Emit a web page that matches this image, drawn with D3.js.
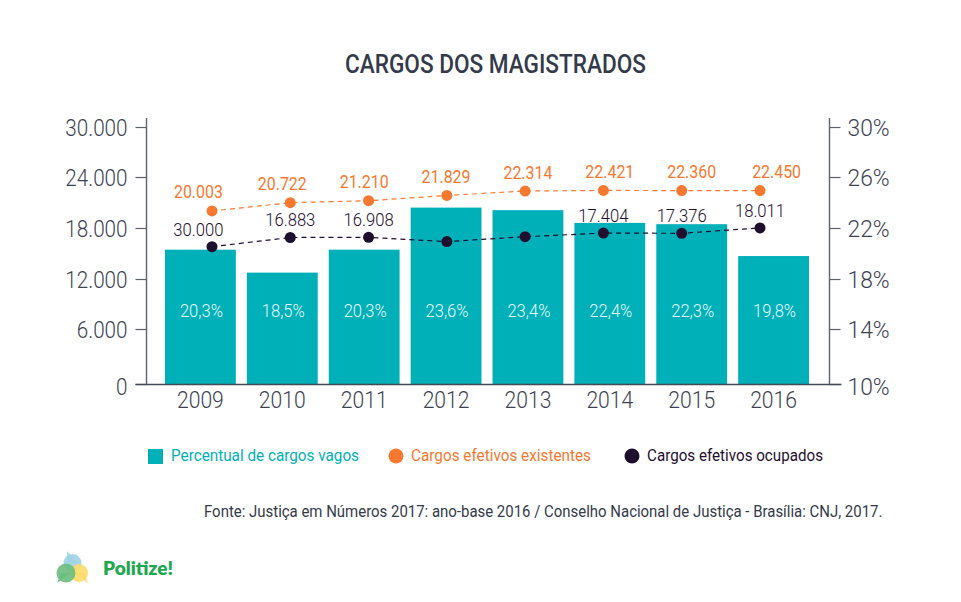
<!DOCTYPE html>
<html><head><meta charset="utf-8">
<script src="https://cdn.jsdelivr.net/npm/d3@7/dist/d3.min.js"></script>
<style>html,body{margin:0;padding:0;background:#fff}svg{display:block}text{font-family:Roboto,sans-serif}</style>
</head><body><svg id="c" width="961" height="602"></svg>
<script>
const years=["2009","2010","2011","2012","2013","2014","2015","2016"];
const percentVagos=[20.3,18.5,20.3,23.6,23.4,22.4,22.3,19.8];
const existentes=[20003,20980,21210,21829,22350,22421,22400,22400];
const ocupados=[15800,16883,16908,16400,16975,17404,17376,18011];
const existentesLabels=["20.003","20.722","21.210","21.829","22.314","22.421","22.360","22.450"];
const ocupadosLabels=["30.000","16.883","16.908",null,null,"17.404","17.376","18.011"];
const leftTicks=[0,6000,12000,18000,24000,30000];
const leftTickLabels=["0","6.000","12.000","18.000","24.000","30.000"];
const rightTicks=[10,14,18,22,26,30];
const titleText="CARGOS DOS MAGISTRADOS";
const sourceText="Fonte: Justiça em Números 2017: ano-base 2016 / Conselho Nacional de Justiça - Brasília: CNJ, 2017.";

const teal="#00b0b9",orange="#f7782f",dark="#1f0e2e",axisC="#5d6270",textC="#3d4252";
const svg=d3.select("#c");
const yRange=[384,329,279,228,177,127];
const yL=d3.scaleLinear().domain(leftTicks).range(yRange);
const yR=d3.scaleLinear().domain(rightTicks).range(yRange);
const xB=d3.scaleBand().domain(years).range([165,809]).paddingInner(0.135).paddingOuter(0);
const xP=d3.scalePoint().domain(years).range([212,760]);
const cx=d=>xB(d)+xB.bandwidth()/2;
const squeeze=(sel,k)=>sel.each(function(){const t=this.getComputedTextLength();d3.select(this).attr("textLength",t*k).attr("lengthAdjust","spacingAndGlyphs");});
const fitAt=(sel,x,y,w)=>{const k=w/sel.node().getComputedTextLength();sel.attr("transform",`translate(${x},${y}) scale(${k},1)`);};

// bars
svg.append("g").selectAll("rect").data(years).join("rect")
 .attr("x",d=>xB(d)).attr("width",xB.bandwidth())
 .attr("y",(d,i)=>yR(percentVagos[i])).attr("height",(d,i)=>384-yR(percentVagos[i])).attr("fill",teal);
svg.append("g").selectAll("text").data(years).join("text")
 .attr("x",d=>cx(d)+1).attr("y",317).attr("text-anchor","middle").attr("fill","#e6f7f7")
 .attr("font-size",18).attr("font-weight",300)
 .text((d,i)=>percentVagos[i].toFixed(1).replace(".",",")+"%").call(squeeze,0.92);

// axes
const axL=d3.axisLeft(yL).tickValues(leftTicks).tickFormat((d,i)=>leftTickLabels[i]).tickSize(11).tickPadding(8);
const axR=d3.axisRight(yR).tickValues(rightTicks).tickFormat(d=>d+"%").tickSize(11).tickPadding(7);
const gL=svg.append("g").attr("transform","translate(146.5,0)").call(axL);
const gR=svg.append("g").attr("transform","translate(829.5,0)").call(axR);
[[gL,0.86],[gR,0.95]].forEach(([g,k])=>{
 g.select(".domain").remove();
 g.append("line").attr("y1",118).attr("y2",384).attr("stroke",axisC).attr("stroke-width",1.4);
 g.selectAll(".tick line").attr("stroke",axisC).attr("stroke-width",1.2);
 g.selectAll(".tick text").attr("font-family","Roboto").attr("font-size",24).attr("font-weight",300).attr("fill",textC)
  .attr("dy",(d,i)=>i===0?"0.44em":"0.35em").call(squeeze,k);
});
const axB=d3.axisBottom(d3.scaleLinear().domain([0,1]).range([135,841])).tickValues([]).tickSize(0);
svg.append("g").attr("transform","translate(0,384)").call(axB).select(".domain").attr("stroke","#444a58").attr("stroke-width",1.4);
svg.append("g").selectAll("text").data(years).join("text")
 .attr("x",d=>cx(d)).attr("y",408).attr("text-anchor","middle").attr("fill",textC)
 .attr("font-size",24).attr("font-weight",300).text(d=>d).call(squeeze,0.88);

// lines
const line=d3.line().x((d,i)=>xP(years[i])).y(d=>yL(d));
svg.append("path").datum(existentes).attr("d",line).attr("fill","none").attr("stroke",orange).attr("stroke-width",1.2).attr("stroke-dasharray","5 4");
svg.append("path").datum(ocupados).attr("d",line).attr("fill","none").attr("stroke",dark).attr("stroke-width",1.2).attr("stroke-dasharray","5 4");
svg.append("g").selectAll("circle").data(existentes).join("circle").attr("cx",(d,i)=>xP(years[i])).attr("cy",d=>yL(d)).attr("r",5.5).attr("fill",orange);
svg.append("g").selectAll("circle").data(ocupados).join("circle").attr("cx",(d,i)=>xP(years[i])).attr("cy",d=>yL(d)).attr("r",5.5).attr("fill",dark);
svg.append("g").selectAll("text").data(years).join("text")
 .attr("x",(d,i)=>cx(d)+(i===7?3:i===0?-2:0)).attr("y",(d,i)=>yL(existentes[i])-12.5).attr("text-anchor","middle").attr("fill",orange)
 .attr("font-size",18.5).attr("font-weight",400).text((d,i)=>existentesLabels[i]).call(squeeze,0.86);
svg.append("g").selectAll("text").data(years.filter((d,i)=>ocupadosLabels[i])).join("text")
 .attr("x",d=>d==="2009"?cx(d)-2:xP(d)).attr("y",d=>yL(ocupados[years.indexOf(d)])-11).attr("text-anchor","middle").attr("fill",dark)
 .attr("font-size",18.5).attr("font-weight",300).text(d=>ocupadosLabels[years.indexOf(d)]).call(squeeze,0.9);

// title
svg.append("text").attr("x",345).attr("y",73).attr("font-size",26).attr("font-weight",500).attr("fill","#333a4a")
 .attr("textLength",301).attr("lengthAdjust","spacingAndGlyphs").text(titleText);

// legend
svg.append("rect").attr("x",148).attr("y",449).attr("width",15).attr("height",15).attr("fill",teal);
svg.append("circle").attr("cx",396).attr("cy",456).attr("r",7.5).attr("fill",orange);
svg.append("circle").attr("cx",632).attr("cy",456).attr("r",7.5).attr("fill",dark);
const leg=[["Percentual de cargos vagos",171,188,teal],["Cargos efetivos existentes",411,180,orange],["Cargos efetivos ocupados",647,176,dark]];
svg.append("g").selectAll("text").data(leg).join("text").attr("x",d=>d[1]).attr("y",461).attr("font-size",17).attr("font-weight",400)
 .attr("fill",d=>d[3]).attr("textLength",d=>d[2]).attr("lengthAdjust","spacingAndGlyphs").text(d=>d[0]);

// source
svg.append("text").attr("font-size",17).attr("font-weight",400).attr("fill","#333a4a").text(sourceText).call(fitAt,204,517,679);

// logo
const logo=svg.append("g");
[[72.5,563,9,"#9fd3e8",67,551],[79,573,9,"#fcdc6a",88,583],[66,573,9.5,"#6cbd80",57,583]].forEach(b=>{
 logo.append("path").attr("d",`M${b[4]},${b[5]}L${b[0]-5},${b[1]}L${b[0]+5},${b[1]}Z`).attr("fill",b[3]).attr("opacity",.9);
 logo.append("circle").attr("cx",b[0]).attr("cy",b[1]).attr("r",b[2]).attr("fill",b[3]).attr("opacity",.9);
});
svg.append("text").attr("x",103).attr("y",575).style("font-family","Lato").attr("font-size",18).attr("font-weight",800).attr("fill","#1fa84f")
 .attr("textLength",70).attr("lengthAdjust","spacingAndGlyphs").text("Politize!");
</script></body></html>
